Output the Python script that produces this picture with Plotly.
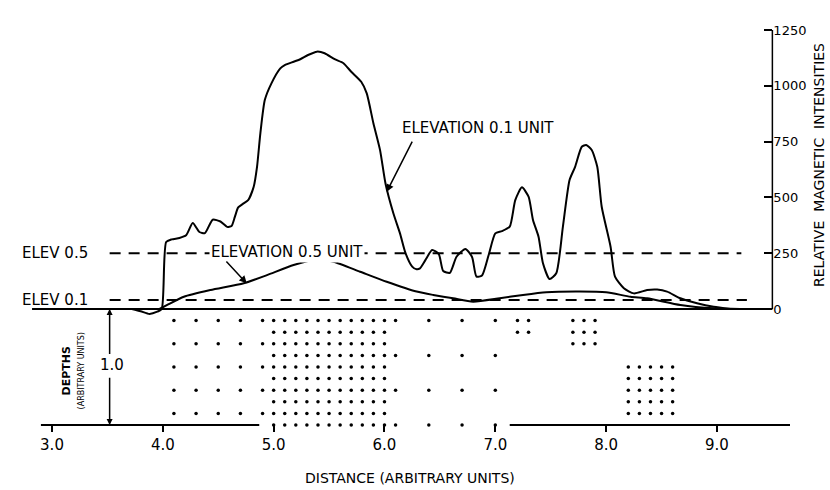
import plotly.graph_objects as go

# ---------------- data ----------------
# Upper curve: ELEVATION 0.1 UNIT (relative magnetic intensity vs distance)
dist_01 = [3.72, 3.80, 3.88, 3.95, 3.99, 4.03, 4.08, 4.15, 4.21, 4.27, 4.33, 4.38, 4.45,
           4.52, 4.58, 4.62, 4.65, 4.68, 4.72, 4.77, 4.82, 4.85, 4.88, 4.92, 4.98, 5.06,
           5.10, 5.18, 5.24, 5.31, 5.39, 5.46, 5.55, 5.63, 5.70, 5.79, 5.84, 5.90, 5.96,
           6.01, 6.08, 6.14, 6.19, 6.25, 6.29, 6.32, 6.37, 6.43, 6.49, 6.53, 6.59, 6.65,
           6.73, 6.79, 6.83, 6.88, 6.94, 7.00, 7.06, 7.13, 7.18, 7.24, 7.30, 7.34, 7.39,
           7.43, 7.49, 7.55, 7.61, 7.67, 7.72, 7.78, 7.82, 7.87, 7.92, 7.96, 8.04, 8.08,
           8.16, 8.25, 8.37, 8.46, 8.55, 8.67, 8.82, 8.97, 9.12]
int_01 = [0, -10, -22, -12, 0, 300, 312, 318, 330, 385, 345, 340, 400,
          392, 368, 372, 413, 455, 470, 488, 548, 637, 787, 936, 1011, 1078,
          1093, 1108, 1119, 1138, 1153, 1146, 1119, 1101, 1063, 1018, 966, 832, 712,
          560, 429, 339, 250, 190, 178, 182, 220, 264, 246, 170, 162, 234,
          269, 233, 145, 150, 242, 339, 349, 369, 488, 545, 503, 399, 324,
          205, 134, 160, 369, 578, 637, 727, 735, 712, 637, 458, 279, 145,
          93, 70, 85, 87, 78, 48, 26, 10, 0]

# Lower curve: ELEVATION 0.5 UNIT
dist_05 = [3.97, 4.04, 4.19, 4.43, 4.73, 4.94, 5.18, 5.39, 5.54, 5.78, 6.02, 6.29, 6.44,
           6.62, 6.80, 7.04, 7.25, 7.46, 7.76, 8.00, 8.22, 8.37, 8.67, 8.97, 9.21]
int_05 = [0, 18, 55, 85, 115, 152, 197, 222, 212, 167, 122, 78, 63,
          48, 33, 48, 63, 75, 78, 75, 55, 48, 18, 3, 0]

# Reference elevation levels (dashed lines)
elev_labels = ["ELEV 0.5", "ELEV 0.1"]
elev_levels = [250, 40]
elev_start = [3.52, 3.52]
elev_end = [9.22, 9.27]

# Sampled depths (dots): column distances x row depths
sparse_cols = [4.1, 4.3, 4.5, 4.7, 4.9]
sparse_rows = [0.1, 0.3, 0.5, 0.7, 0.9]
dense_cols = [5.0, 5.1, 5.2, 5.3, 5.4, 5.5, 5.6, 5.7, 5.8, 5.9, 6.0]
dense_rows = [0.1, 0.2, 0.3, 0.4, 0.5, 0.6, 0.7, 0.8, 0.9, 1.0]
mid_cols = [6.1, 6.4, 6.7, 7.0]
mid_rows = [0.1, 0.4, 0.7, 1.0]
c1_cols = [7.2, 7.3]
c1_rows = [0.1, 0.2]
c2_cols = [7.7, 7.8, 7.9]
c2_rows = [0.1, 0.2, 0.3]
c3_cols = [8.2, 8.3, 8.4, 8.5, 8.6]
c3_rows = [0.5, 0.6, 0.7, 0.8, 0.9]

x_ticks = [3, 4, 5, 6, 7, 8, 9]
x_ticktext = ["3.0", "4.0", "5.0", "6.0", "7.0", "8.0", "9.0"]
y_ticks = [0, 250, 500, 750, 1000, 1250]
y_ticktext = ["0", "250", "500", "750", "1000", "1250"]

# ---------------- layout constants ----------------
X_RANGE = [2.8015, 9.659]
Y_DEPTH_RANGE = [1.0, -2.4914]
Y_INT_RANGE = [-519.7, 1294.8]
AXIS_X = 9.5
FONT = "DejaVu Sans"

fig = go.Figure()

line_style = dict(color="black", width=2, shape="spline", smoothing=0.6)
fig.add_trace(go.Scatter(x=dist_01, y=int_01, yaxis="y2", mode="lines",
                         line=line_style, hoverinfo="skip"))
fig.add_trace(go.Scatter(x=dist_05, y=int_05, yaxis="y2", mode="lines",
                         line=line_style, hoverinfo="skip"))

for s, e, lv in zip(elev_start, elev_end, elev_levels):
    fig.add_trace(go.Scatter(x=[s, e], y=[lv, lv], yaxis="y2", mode="lines",
                             line=dict(color="black", width=2, dash="11px,8px"),
                             hoverinfo="skip"))

dot_x, dot_y = [], []
for cols, rows in [(sparse_cols, sparse_rows), (dense_cols, dense_rows),
                   (mid_cols, mid_rows), (c1_cols, c1_rows),
                   (c2_cols, c2_rows), (c3_cols, c3_rows)]:
    for r in rows:
        for c in cols:
            dot_x.append(c)
            dot_y.append(r)
fig.add_trace(go.Scatter(x=dot_x, y=dot_y, yaxis="y", mode="markers",
                         marker=dict(color="black", size=3.5), cliponaxis=False,
                         hoverinfo="skip"))

shapes = [
    # zero baseline
    dict(type="line", xref="x", yref="y2", x0=2.82, x1=AXIS_X, y0=0, y1=0,
         line=dict(color="black", width=2)),
    # right intensity axis line
    dict(type="line", xref="x", yref="y2", x0=AXIS_X, x1=AXIS_X, y0=0, y1=1250,
         line=dict(color="black", width=1.5)),
    # bottom distance axis (broken where the deepest dots sit)
    dict(type="line", xref="x", yref="paper", x0=2.9, x1=4.87, y0=0, y1=0,
         line=dict(color="black", width=2)),
    dict(type="line", xref="x", yref="paper", x0=7.13, x1=9.659, y0=0, y1=0,
         line=dict(color="black", width=2)),
]

ann = []
C = dict(xanchor="center", yanchor="middle", showarrow=False)
txt = dict(family=FONT, size=15, color="black")
for lab, lv in zip(elev_labels, elev_levels):
    ann.append(dict(x=3.03, y=lv, xref="x", yref="y2", text=lab,
                    font=dict(family=FONT, size=15, color="black"), **C))
ann.append(dict(x=6.844, y=811, xref="x", yref="y2", text="ELEVATION 0.1 UNIT",
                font=txt, **C))
ann.append(dict(x=6.02, y=525, xref="x", yref="y2", ax=6.257, ay=757,
                axref="x", ayref="y2", text="", showarrow=True, arrowhead=2,
                arrowsize=1, arrowwidth=1.5, arrowcolor="black"))
ann.append(dict(x=5.12, y=255, xref="x", yref="y2", text="ELEVATION 0.5 UNIT",
                font=txt, bgcolor="white", **C))
ann.append(dict(x=4.757, y=115, xref="x", yref="y2", ax=4.561, ay=220,
                axref="x", ayref="y2", text="", showarrow=True, arrowhead=2,
                arrowsize=1, arrowwidth=1.5, arrowcolor="black"))
# depth scale
ann.append(dict(x=3.54, y=0.48, xref="x", yref="y", text="1.0", font=txt, **C))
ann.append(dict(x=3.52, y=0.0, xref="x", yref="y", ax=3.52, ay=0.40,
                axref="x", ayref="y", text="", showarrow=True, arrowhead=2,
                arrowsize=0.8, arrowwidth=1.5, arrowcolor="black"))
ann.append(dict(x=3.52, y=1.0, xref="x", yref="y", ax=3.52, ay=0.58,
                axref="x", ayref="y", text="", showarrow=True, arrowhead=2,
                arrowsize=0.8, arrowwidth=1.5, arrowcolor="black"))
ann.append(dict(x=3.135, y=0.53, xref="x", yref="y", text="<b>DEPTHS</b>",
                textangle=-90, font=dict(family=FONT, size=11, color="black"), **C))
ann.append(dict(x=3.27, y=0.53, xref="x", yref="y", text="(ARBITRARY UNITS)",
                textangle=-90, font=dict(family=FONT, size=8, color="black"), **C))
# axis titles
ann.append(dict(x=0.5, y=-0.1309, xref="paper", yref="paper",
                text="DISTANCE (ARBITRARY UNITS)",
                font=dict(family=FONT, size=14, color="black"), **C))
ann.append(dict(x=1.0382, y=0.642, xref="paper", yref="paper",
                text="RELATIVE  MAGNETIC  INTENSITIES", textangle=-90,
                font=dict(family=FONT, size=14, color="black"), **C))

fig.update_layout(
    width=830, height=490,
    margin=dict(l=30, r=40, t=20, b=65),
    paper_bgcolor="white", plot_bgcolor="white",
    showlegend=False,
    shapes=shapes,
    annotations=ann,
    xaxis=dict(range=X_RANGE, showgrid=False, zeroline=False, showline=False,
               ticks="outside", ticklen=6, tickwidth=1.5, tickcolor="black",
               tickvals=x_ticks, ticktext=x_ticktext,
               tickfont=dict(family=FONT, size=15, color="black")),
    yaxis=dict(range=Y_DEPTH_RANGE, visible=False, showgrid=False, zeroline=False),
    yaxis2=dict(range=Y_INT_RANGE, overlaying="y", side="right", anchor="free",
                position=0.9768, showgrid=False, zeroline=False, showline=False,
                ticks="inside", ticklen=8, tickwidth=1.5, tickcolor="black",
                tickvals=y_ticks, ticktext=y_ticktext,
                tickfont=dict(family=FONT, size=13, color="black")),
)

fig.write_html("out.html")
